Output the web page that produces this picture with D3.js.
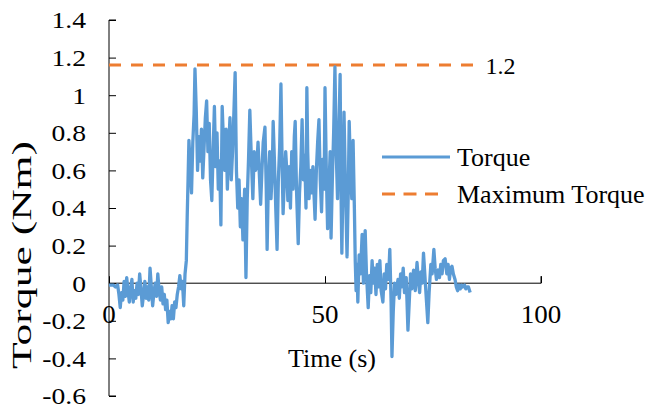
<!DOCTYPE html>
<html><head><meta charset="utf-8">
<script src="https://cdn.jsdelivr.net/npm/d3@7"></script>
<style>body{margin:0;background:#fff}svg text{font-family:"Liberation Serif","Times New Roman",serif;fill:#000}</style>
</head><body><svg id="c" width="653" height="408"></svg>
<script>
const timeS = [0,0.5,1,1.5,2,2.3,2.6,2.9,3.2,3.5,3.8,4.1,4.4,4.7,5,5.3,5.6,5.9,6.2,6.5,6.8,7.1,7.4,7.7,8,8.3,8.6,8.9,9.2,9.5,9.8,10.1,10.4,10.7,11,11.3,11.6,11.9,12.2,12.5,12.8,13.1,13.4,13.7,14,14.3,14.6,14.9,15.2,15.5,15.8,16.1,16.4,16.7,17,17.3,17.6,17.9,18.1,18.3,18.5,18.8,19.1,19.4,19.7,19.9,20.2,20.5,20.8,21.1,21.4,21.7,22,22.3,22.6,22.9,23.2,23.5,23.8,24.1,24.4,24.7,25,25.3,25.6,25.9,26.2,26.5,26.8,27.1,27.4,27.7,28,28.3,28.6,28.9,29.2,29.5,29.8,30.1,30.4,30.7,31,31.4,31.7,32,32.3,32.6,32.9,33.3,33.6,33.9,34.2,34.5,34.8,35.1,35.4,35.7,36.1,36.4,36.6,36.9,37.2,37.5,37.8,38,38.3,38.6,38.9,39.2,39.5,39.8,40.1,40.3,40.6,40.9,41.2,41.4,41.7,42,42.3,42.6,42.9,43.1,43.4,43.8,44.1,44.4,44.7,45,45.3,45.6,45.8,46,46.3,46.6,46.9,47.2,47.5,47.7,48,48.3,48.6,48.9,49.2,49.5,49.8,50,50.3,50.6,50.9,51.2,51.4,51.7,52,52.3,52.6,52.9,53.2,53.5,53.7,53.9,54.2,54.4,54.7,55.1,55.4,55.6,55.9,56.2,56.5,56.8,57,57.2,57.4,57.6,57.9,58.2,58.6,58.9,59.3,59.6,60,60.3,60.6,60.9,61.2,61.5,61.8,62.1,62.4,62.7,63,63.4,63.7,64,64.3,64.7,65,65.3,65.5,65.8,66.1,66.4,66.9,67.2,67.5,67.8,68.1,68.4,68.8,69.2,69.5,69.8,70.1,70.5,70.9,71.3,71.6,71.9,72.2,72.5,72.8,73.1,73.5,73.8,74.1,74.5,74.8,75.2,75.5,75.8,76.2,76.5,76.8,77.1,77.4,77.8,78.2,78.5,78.8,79.1,79.4,79.7,80.1,80.4,80.7,81,81.3,81.6,81.9,82.3,82.6,82.9,83.2,83.6,84,84.3];
const torqueNm = [-0.01,-0.01,-0.01,-0.02,-0.01,-0.06,-0.13,-0.05,-0.09,0.01,-0.07,0.03,-0.04,-0.1,-0.03,0.02,-0.1,-0.04,-0.08,0,-0.06,0.05,-0.03,-0.12,-0.06,0.01,-0.08,-0.02,-0.09,0.08,-0.02,-0.12,-0.05,0,-0.07,0.05,-0.04,-0.09,-0.02,-0.11,-0.06,-0.14,-0.09,-0.21,-0.15,-0.19,-0.12,-0.19,-0.1,-0.13,-0.06,-0.02,0.04,-0.03,0.01,-0.12,0.05,0.12,0.35,0.55,0.76,0.62,0.48,0.75,0.9,1.14,0.92,0.6,0.78,0.65,0.82,0.56,0.72,0.88,0.97,0.7,0.85,0.55,0.44,0.7,0.94,0.62,0.8,0.5,0.65,0.31,0.94,0.75,0.6,0.82,0.5,0.72,0.88,0.55,0.7,0.9,1.12,0.6,0.4,0.55,0.3,0.45,0.23,0.5,0.03,0.45,0.66,0.92,0.7,0.45,0.7,0.6,0.62,0.75,0.58,0.42,0.6,0.75,0.83,0.5,0.18,0.55,0.7,0.45,0.6,0.86,0.65,0.4,0.18,0.55,0.72,1.06,0.6,0.37,0.55,0.7,0.58,0.44,0.62,0.4,0.7,0.5,0.78,0.86,0.5,0.21,0.48,0.62,0.87,0.55,0.68,0.4,1.04,0.7,0.45,0.6,0.48,0.62,0.45,0.34,0.6,0.75,0.87,0.55,0.38,0.66,0.5,1.04,0.6,0.29,0.5,0.7,0.24,0.55,0.8,1.15,0.7,0.45,0.8,1.11,0.5,0.16,0.6,0.91,0.55,0.14,0.5,0.86,0.6,0.45,0.76,0.4,0.12,-0.04,0.1,-0.1,0.15,0.05,0.26,0,0.28,0.05,-0.13,0.04,-0.05,0.12,0,0.08,-0.06,0.1,-0.02,0.12,-0.04,-0.1,0.05,-0.03,0.1,0.02,0.18,-0.1,-0.39,-0.15,0,-0.06,0.02,-0.08,0.05,-0.02,0.08,-0.05,0.03,-0.25,-0.1,0.05,-0.03,0.07,-0.04,0.11,0.02,-0.05,0.06,0,0.16,0.05,-0.1,-0.21,-0.05,0.1,0.05,0.18,0.08,0.02,0.07,0.03,0.1,0.05,0.12,0.13,0.05,0.1,0.02,0.08,0.09,0.05,0.02,-0.02,-0.04,-0.01,-0.03,-0.01,-0.02,-0.01,-0.03,-0.02,-0.02,-0.05];
const maxTorque = 1.16;
const maxTorqueEnd = 84.6;
const maxLabel = "1.2";
const yTicks = [1.4,1.2,1,0.8,0.6,0.4,0.2,0,-0.2,-0.4,-0.6];
const xTicks = [0,50,100];
const seriesNames = ["Torque","Maximum Torque"];
const colors = ["#5B9BD5","#ED7D31"];

const svg = d3.select("#c");
const x = d3.scaleLinear().domain([0,100]).range([109,541]);
const y = d3.scaleLinear().domain([-0.6,1.4]).range([396,20]);

// y axis
const yAx = svg.append("g").attr("transform",`translate(${x(0)},0)`)
  .call(d3.axisRight(y).tickValues(yTicks).tickSize(7).tickFormat(""));
yAx.select(".domain").attr("d",`M7,${y(1.4)}H0V${y(-0.6)}H7`).attr("stroke","#000");
yAx.selectAll(".tick line").attr("stroke","#000");
svg.append("g").selectAll("text").data(yTicks).join("text")
  .attr("transform",d=>`translate(86,${y(d)}) scale(1.15,1)`).attr("dy","0.35em").attr("text-anchor","end")
  .attr("font-size",24).text(d=>String(d));

// x axis at y=0
const xAx = svg.append("g").attr("transform",`translate(0,${y(0)})`)
  .call(d3.axisTop(x).tickValues(xTicks).tickSize(7).tickFormat(""));
xAx.select(".domain").attr("d",`M${x(0)},0H${x(100)}V-7`).attr("stroke","#000");
xAx.selectAll(".tick line").attr("stroke","#000");
svg.append("g").selectAll("text").data(xTicks).join("text")
  .attr("transform",d=>`translate(${x(d)},${y(0)+40}) scale(1.08,1)`).attr("text-anchor","middle")
  .attr("font-size",25).text(d=>d);

// max torque
svg.append("line").attr("x1",x(0)).attr("x2",x(maxTorqueEnd)).attr("y1",y(maxTorque)).attr("y2",y(maxTorque))
  .attr("stroke",colors[1]).attr("stroke-width",3).attr("stroke-dasharray","12,10");
svg.append("text").attr("x",x(maxTorqueEnd)+11).attr("y",y(maxTorque)).attr("dy","0.35em")
  .attr("font-size",24).text(maxLabel);

// torque line
const data = timeS.map((t,i)=>[t,torqueNm[i]]);
svg.append("path").datum(data).attr("fill","none").attr("stroke",colors[0]).attr("stroke-width",3.3)
  .attr("stroke-linejoin","round")
  .attr("d",d3.line().x(d=>x(d[0])).y(d=>y(d[1])));

// axis titles
svg.append("text").attr("transform","translate(31,255) rotate(-90)").attr("text-anchor","middle")
  .attr("font-size",27).attr("textLength",228).attr("lengthAdjust","spacingAndGlyphs").text("Torque (Nm)");
svg.append("text").attr("x",332).attr("y",367).attr("text-anchor","middle")
  .attr("font-size",26).text("Time (s)");

// legend
const lg = svg.append("g");
lg.append("line").attr("x1",382).attr("x2",450).attr("y1",157).attr("y2",157).attr("stroke",colors[0]).attr("stroke-width",3);
lg.append("line").attr("x1",382).attr("x2",438).attr("y1",194).attr("y2",194).attr("stroke",colors[1]).attr("stroke-width",3).attr("stroke-dasharray","13,8.5");
lg.selectAll("text").data(seriesNames).join("text").attr("x",457).attr("y",(d,i)=>157+i*37).attr("dy","0.35em")
  .attr("font-size",26).text(d=>d);
</script></body></html>
